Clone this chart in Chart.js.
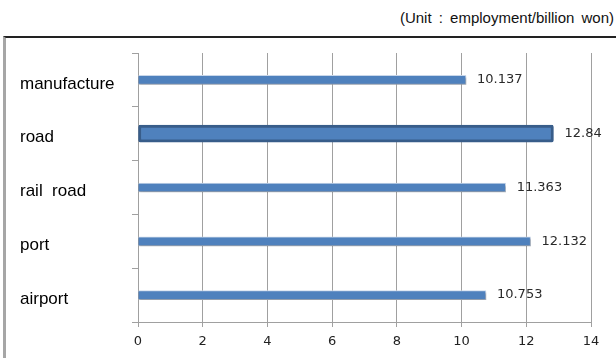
<!DOCTYPE html>
<html>
<head>
<meta charset="utf-8">
<script src="https://cdn.jsdelivr.net/npm/chart.js@4/dist/chart.umd.min.js"></script>
<style>
  html, body { margin: 0; padding: 0; background: #fff; }
  #wrap { position: relative; width: 616px; height: 358px; overflow: hidden; }
  #unit {
    position: absolute; right: 2px; top: 9px;
    font: 15px "Liberation Sans", Arial, sans-serif; color: #111;
    word-spacing: 3px; white-space: pre;
  }
  #frame {
    position: absolute; left: 3px; top: 36px; width: 640px; height: 340px;
    border-top: 2px solid #222; border-left: 3px solid #a6a6a6;
  }
  canvas { position: absolute; left: 0; top: 0; }
</style>
</head>
<body>
<div id="wrap">
  <div id="unit">(Unit : employment/billion won)</div>
  <div id="frame"></div>
  <canvas id="employment-chart" width="616" height="358"></canvas>
</div>
<script>
var sectors = ['manufacture', 'road', 'rail  road', 'port', 'airport'];
var coefficients = [10.137, 12.84, 11.363, 12.132, 10.753];
var highlighted = 'road';
var xTicks = [0, 2, 4, 6, 8, 10, 12, 14];

// split the series so the highlighted sector can get a thicker bar
var normalData = coefficients.map(function (v, i) { return sectors[i] === highlighted ? null : v; });
var highlightData = coefficients.map(function (v, i) { return sectors[i] === highlighted ? v : null; });

// soft drop shadow under the thin bars
var barShadow = {
    id: 'barShadow',
    beforeDatasetDraw: function (chart, args) {
        var ctx = chart.ctx;
        ctx.save();
        if (args.index === 0) {
            ctx.shadowColor = 'rgba(0,0,0,0.28)';
            ctx.shadowOffsetX = 1;
            ctx.shadowOffsetY = 2;
            ctx.shadowBlur = 2;
        }
    },
    afterDatasetDraw: function (chart) {
        chart.ctx.restore();
    }
};

// value written to the right of every bar
var valueLabels = {
    id: 'valueLabels',
    afterDatasetsDraw: function (chart) {
        var ctx = chart.ctx;
        ctx.save();
        ctx.font = '13px "DejaVu Sans", Verdana, sans-serif';
        ctx.fillStyle = '#2a2a2a';
        ctx.textAlign = 'left';
        ctx.textBaseline = 'middle';
        chart.data.datasets.forEach(function (ds, di) {
            chart.getDatasetMeta(di).data.forEach(function (bar, i) {
                if (ds.data[i] === null) return;
                ctx.fillText(String(ds.data[i]), bar.x + 11, bar.y);
            });
        });
        ctx.restore();
    }
};

var ctx = document.getElementById('employment-chart').getContext('2d');

var myBarChart = new Chart(ctx, {
    type: 'bar',
    data: {
        labels: sectors,
        datasets: [{
            data: normalData,
            backgroundColor: '#4f81bd',
            borderColor: '#c9d7ea',
            borderWidth: 1,
            barThickness: 9,
            grouped: false
        }, {
            data: highlightData,
            backgroundColor: '#4f81bd',
            borderColor: '#385d8a',
            borderWidth: 3,
            borderRadius: 2,
            borderSkipped: false,
            barThickness: 17,
            grouped: false
        }]
    },
    options: {
        indexAxis: 'y',
        responsive: false,
        animation: false,
        layout: { padding: { left: 20, right: 25, top: 53, bottom: 0 } },
        plugins: {
            legend: { display: false },
            tooltip: { enabled: false }
        },
        scales: {
            x: {
                min: 0,
                max: 14,
                afterBuildTicks: function (scale) {
                    scale.ticks = xTicks.map(function (v) { return { value: v }; });
                },
                afterFit: function (scale) { scale.height = 36; },
                grid: { color: '#a0a0a0', lineWidth: 1, tickLength: 5 },
                border: { color: '#a0a0a0' },
                ticks: {
                    padding: 7,
                    color: '#222',
                    font: { family: '"DejaVu Sans", Verdana, sans-serif', size: 13 }
                }
            },
            y: {
                afterFit: function (scale) { scale.width = 118; },
                grid: { drawOnChartArea: false, color: '#a0a0a0', tickLength: 6 },
                border: { color: '#a0a0a0' },
                ticks: {
                    crossAlign: 'far',
                    labelOffset: 4,
                    color: '#000',
                    font: { family: '"Liberation Sans", Arial, sans-serif', size: 17 }
                }
            }
        }
    },
    plugins: [barShadow, valueLabels]
});
</script>
</body>
</html>
